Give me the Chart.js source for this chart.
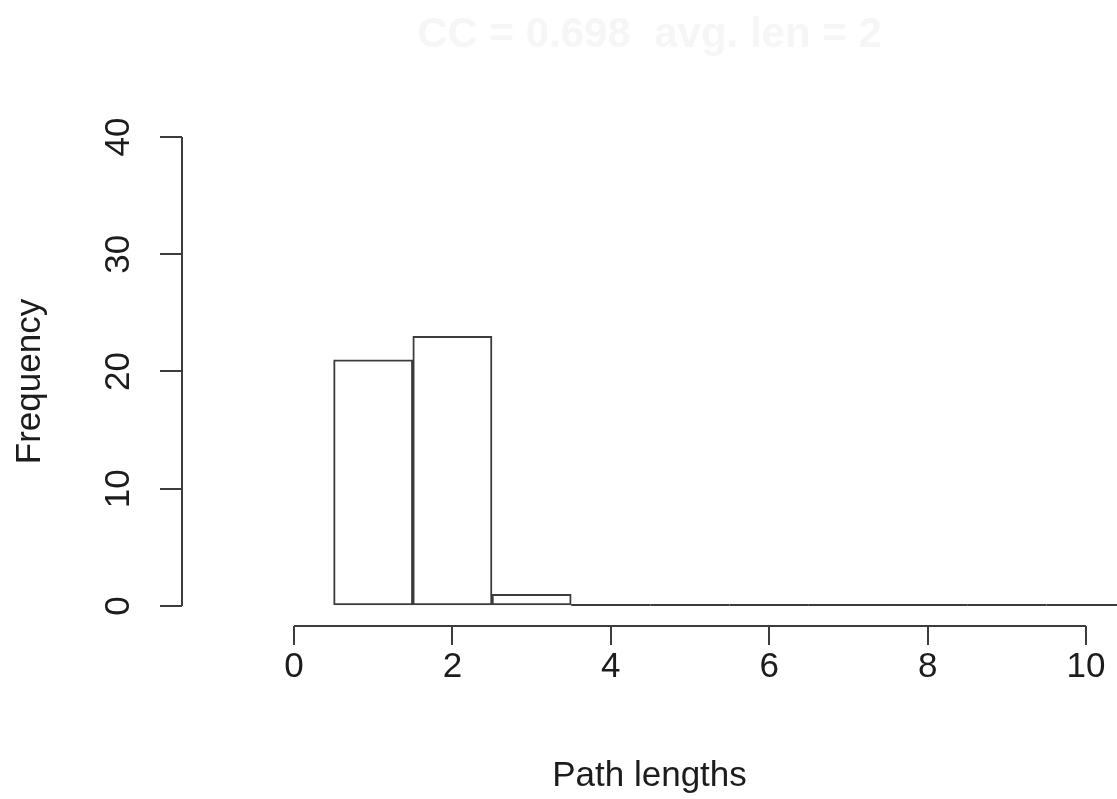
<!DOCTYPE html>
<html>
<head>
<meta charset="utf-8">
<script src="https://cdn.jsdelivr.net/npm/chart.js@4/dist/chart.umd.min.js"></script>
<style>
  html, body { margin: 0; padding: 0; background: #ffffff; }
  #wrap { width: 1117px; height: 799px; position: relative; }
</style>
</head>
<body>
<div id="wrap"><canvas id="c"></canvas></div>
<script>
// ---- data ----
const pathLengths = [1, 2, 3, 4, 5, 6, 7, 8, 9, 10];
const frequencies = [21, 23, 1, 0, 0, 0, 0, 0, 0, 0];
const xTickValues = [0, 2, 4, 6, 8, 10];
const xTickLabels = ['0', '2', '4', '6', '8', '10'];
const yTickValues = [0, 10, 20, 30, 40];
const yTickLabels = ['0', '10', '20', '30', '40'];
const titleText = 'CC = 0.698  avg. len = 2';
const xTitle = 'Path lengths';
const yTitle = 'Frequency';

const lineColor = '#3c3c3c';
const textColor = '#1c1c1c';
const fontFamily = '"Liberation Sans", Arial, Helvetica, sans-serif';

const rAxes = {
  id: 'rAxes',
  afterDatasetsDraw(chart) {
    const ctx = chart.ctx;
    const meta = chart.getDatasetMeta(0);
    ctx.save();
    ctx.strokeStyle = lineColor;
    ctx.lineWidth = 2;
    meta.data.forEach((bar) => {
      const p = bar.getProps(['x', 'y', 'base', 'width'], true);
      if (Math.abs(p.base - p.y) < 0.5) {
        ctx.beginPath();
        ctx.moveTo(p.x - p.width / 2, p.y - 1);
        ctx.lineTo(p.x + p.width / 2, p.y - 1);
        ctx.stroke();
      }
    });
    const xs = chart.scales.x, ys = chart.scales.y;
    ctx.beginPath();
    ctx.moveTo(xs.getPixelForValue(xTickValues[0]), xs.top);
    ctx.lineTo(xs.getPixelForValue(xTickValues[xTickValues.length - 1]), xs.top);
    ctx.moveTo(ys.right, ys.getPixelForValue(yTickValues[0]));
    ctx.lineTo(ys.right, ys.getPixelForValue(yTickValues[yTickValues.length - 1]));
    ctx.stroke();
    ctx.restore();
  }
};

new Chart(document.getElementById('c'), {
  type: 'bar',
  data: {
    datasets: [{
      data: pathLengths.map((x, i) => ({ x: x, y: frequencies[i] })),
      backgroundColor: '#ffffff',
      borderColor: lineColor,
      borderWidth: 2,
      borderSkipped: false,
      barPercentage: 1,
      categoryPercentage: 1
    }]
  },
  options: {
    responsive: true,
    maintainAspectRatio: false,
    animation: false,
    layout: { padding: 0 },
    plugins: {
      legend: { display: false },
      tooltip: { enabled: false },
      title: {
        display: true,
        text: titleText,
        color: '#f6f6f6',
        fullSize: false,
        font: { family: fontFamily, size: 42, weight: 'bold' },
        padding: { top: 10, bottom: 76.6 }
      }
    },
    scales: {
      x: {
        type: 'linear',
        offset: false,
        min: -1.414,
        max: 10.391,
        afterFit: (s) => { s.height = 173; },
        afterBuildTicks: (s) => { s.ticks = xTickValues.map(v => ({ value: v })); },
        border: { display: false },
        grid: { offset: false, drawOnChartArea: false, drawTicks: true, tickLength: 19, color: lineColor, lineWidth: 2 },
        ticks: {
          autoSkip: false,
          maxRotation: 0,
          color: textColor,
          padding: 1,
          font: { family: fontFamily, size: 35 },
          callback: (v) => xTickLabels[xTickValues.indexOf(v)]
        },
        title: {
          display: true,
          text: xTitle,
          color: textColor,
          font: { family: fontFamily, size: 35 },
          padding: { top: 0, bottom: 2 }
        }
      },
      y: {
        min: -1.706,
        max: 40,
        afterFit: (s) => { s.width = 182; },
        afterBuildTicks: (s) => { s.ticks = yTickValues.map(v => ({ value: v })); },
        border: { display: false },
        grid: { offset: false, drawOnChartArea: false, drawTicks: true, tickLength: 22, color: lineColor, lineWidth: 2 },
        ticks: {
          autoSkip: false,
          minRotation: 90,
          maxRotation: 90,
          crossAlign: 'center',
          color: textColor,
          padding: 21,
          font: { family: fontFamily, size: 35 },
          callback: (v) => yTickLabels[yTickValues.indexOf(v)]
        },
        title: {
          display: true,
          text: yTitle,
          color: textColor,
          font: { family: fontFamily, size: 35 },
          padding: { top: 9, bottom: 0 }
        }
      }
    }
  },
  plugins: [rAxes]
});
</script>
</body>
</html>
